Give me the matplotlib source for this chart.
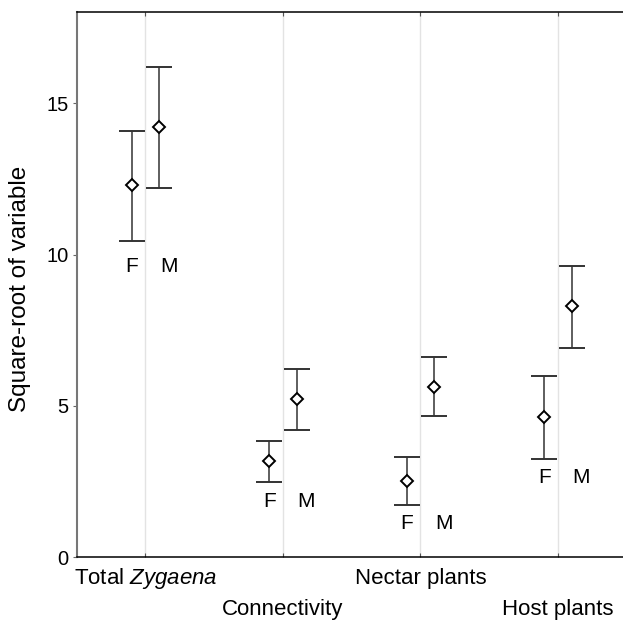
import numpy as np
import matplotlib
matplotlib.use("Agg")
import matplotlib.pyplot as plt

plt.rcParams['font.family'] = ['Liberation Sans', 'DejaVu Sans']
plt.rcParams['mathtext.fontset'] = 'custom'
plt.rcParams['mathtext.rm'] = 'Liberation Sans'
plt.rcParams['mathtext.it'] = 'Liberation Sans:italic'

# data (square-root scale, mean with lower / upper limits)
categories = ['Total $\\mathit{Zygaena}$', 'Connectivity', 'Nectar plants', 'Host plants']
f_mean = [12.30, 3.17, 2.52, 4.64]
f_low = [10.45, 2.49, 1.72, 3.25]
f_high = [14.09, 3.83, 3.31, 6.00]
m_mean = [14.20, 5.23, 5.64, 8.29]
m_low = [12.20, 4.22, 4.67, 6.92]
m_high = [16.19, 6.21, 6.61, 9.62]
sex_label_y = [9.62, 1.83, 1.10, 2.62]

x = np.arange(len(categories)) + 0.5
f_mean, f_low, f_high = map(np.array, (f_mean, f_low, f_high))
m_mean, m_low, m_high = map(np.array, (m_mean, m_low, m_high))

fig = plt.figure(figsize=(6.23, 6.24), dpi=100)
ax = fig.add_axes([76.7 / 623, (624 - 557.3) / 624, 550 / 623, 545 / 624])

for xc in x:
    ax.axvline(xc, color='#e3e3e3', lw=1, zorder=0)

err_kw = dict(fmt='D', color='#222222', ecolor='#333333', elinewidth=1.1,
              capsize=9.7, capthick=1.1, markersize=5.8,
              markerfacecolor='white', markeredgecolor='black',
              markeredgewidth=1.4)
ax.errorbar(x - 0.1, f_mean, yerr=[f_mean - f_low, f_high - f_mean], **err_kw)
ax.errorbar(x + 0.1, m_mean, yerr=[m_mean - m_low, m_high - m_mean], **err_kw)

for xc, ly in zip(x, sex_label_y):
    ax.text(xc - 0.1, ly, 'F', ha='center', va='center', fontsize=15)
    ax.text(xc + 0.17, ly, 'M', ha='center', va='center', fontsize=15)

ax.set_xlim(0, 4)
ax.set_ylim(0, 18)
ax.set_yticks([0, 5, 10, 15])
ax.set_xticks(x)
ax.set_xticklabels([])
ax.tick_params(axis='y', direction='out', length=3, color='#666666',
               labelsize=14.5, pad=3)
ax.tick_params(axis='x', direction='in', length=3, color='#555555',
               top=True, bottom=True)

trans = ax.get_xaxis_transform()
for i, (xc, lab) in enumerate(zip(x, categories)):
    yy = -0.0385 if i % 2 == 0 else -0.0955
    ax.text(xc, yy, lab, transform=trans, ha='center', va='center',
            fontsize=16)

ax.set_ylabel('Square-root of variable', fontsize=17.5)
ax.yaxis.set_label_coords(-0.083, 0.493)

ax.spines['right'].set_visible(False)
ax.spines['left'].set_color('#777777')
ax.spines['left'].set_linewidth(1.5)
ax.spines['top'].set_linewidth(1.1)
ax.spines['bottom'].set_linewidth(1.1)

fig.savefig('out.png', dpi=100)
